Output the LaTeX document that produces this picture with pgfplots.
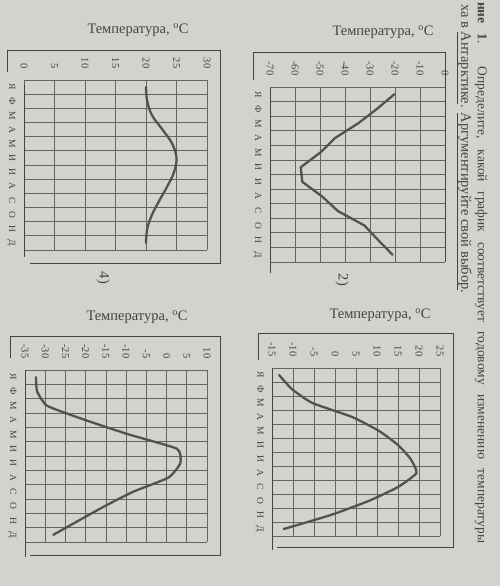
\documentclass[border=0pt]{standalone}
\usepackage{fontspec}
\setmainfont{Liberation Serif}
\usepackage{pgfplots}
\pgfplotsset{compat=1.18}
\definecolor{bg}{RGB}{210,211,205}
\definecolor{ink}{RGB}{68,68,66}
\definecolor{gridc}{RGB}{100,100,98}
\definecolor{curve}{RGB}{82,82,80}
\pgfplotsset{chart/.style={
  scale only axis, enlargelimits=false, clip=false,
  y dir=reverse, ymin=0, ymax=12,
  ytick={0.5,1.5,...,11.5}, yticklabels={Я,Ф,М,А,М,И,И,А,С,О,Н,Д},
  minor ytick={0,1,...,12}, yminorgrids=true, xmajorgrids=true, ymajorgrids=false,
  axis line style={draw=none}, major tick length=0pt, minor tick length=0pt,
  xticklabel pos=upper,
  /pgf/number format/assume math mode=true,
  xticklabel style={yshift=8pt, rotate=-90, anchor=east, font=\fontsize{10.5}{12}\selectfont, text=ink},
  yticklabel style={xshift=-5pt, rotate=-90, anchor=north, font=\fontsize{9.5}{11}\selectfont, text=ink},
  major grid style={line width=0.75pt, draw=gridc},
  minor grid style={line width=0.75pt, draw=gridc},
}}
\tikzset{crv/.style={line width=2.3pt, draw=curve, line join=round, line cap=round, mark=none}}
\begin{document}
\begin{tikzpicture}
\fill[bg] (0pt,0pt) rectangle (500pt,586pt);
\useasboundingbox (0pt,0pt) rectangle (500pt,586pt);

% ---------- chart 4 (top left)
\begin{axis}[chart, at={(24pt,336pt)}, anchor=south west, width=183pt, height=170pt,
  xmin=0, xmax=30, xtick={0,5,...,30}]
\addplot[crv, smooth, tension=0.6] coordinates {(20,0.5)(20.2,1.5)(21,2.5)(22.7,3.5)(24.3,4.5)(25,5.5)(24.6,6.5)(23.5,7.5)(22.2,8.5)(21,9.5)(20.2,10.5)(20,11.5)};
\end{axis}
% ---------- chart 2 (top right)
\begin{axis}[chart, at={(270pt,324pt)}, anchor=south west, width=175pt, height=175pt,
  xmin=-70, xmax=0, xtick={-70,-60,...,0}]
\addplot[crv, sharp plot] coordinates {(-20.3,0.5)(-27.2,1.5)(-34.8,2.5)(-44,3.5)(-49.9,4.5)(-57.7,5.5)(-57.1,6.5)(-49.2,7.5)(-42.9,8.5)(-32.2,9.5)(-26.7,10.5)(-21,11.5)};
\end{axis}
% ---------- chart 3 (bottom left)
\begin{axis}[chart, at={(25pt,44pt)}, anchor=south west, width=182pt, height=172pt,
  xmin=-35, xmax=10, xtick={-35,-30,...,10}]
\addplot[crv, smooth, tension=0.3] coordinates {(-32.3,0.5)(-32,1.5)(-29.5,2.5)(-20,3.5)(-9.3,4.5)(2.6,5.5)(3.4,6.5)(0.5,7.5)(-8.3,8.5)(-15.3,9.5)(-21.7,10.5)(-28,11.5)};
\end{axis}
% ---------- chart 1 (bottom right)
\begin{axis}[chart, at={(272pt,50pt)}, anchor=south west, width=168pt, height=168pt,
  xmin=-15, xmax=25, xtick={-15,-10,...,25}]
\addplot[crv, smooth, tension=0.3] coordinates {(-13.3,0.5)(-10.3,1.5)(-5.4,2.5)(4.1,3.5)(10.5,4.5)(15,5.5)(18,6.5)(19.4,7.5)(15,8.5)(8,9.5)(-1,10.5)(-12.2,11.5)};
\end{axis}

% frames and month axis lines
\begin{scope}[draw=ink, line width=0.8pt]
\draw (7pt,514pt) -- (7pt,536pt) -- (220pt,536pt) -- (220pt,323pt) -- (30pt,323pt);
\draw (24pt,501pt) -- (24pt,329pt);
\draw (253pt,506pt) -- (253pt,534pt) -- (445pt,534pt) -- (445pt,324pt);
\draw (270pt,498pt) -- (270pt,313pt);
\draw (10pt,228pt) -- (10pt,250pt) -- (220pt,250pt) -- (220pt,31pt) -- (30pt,31pt);
\draw (25pt,216pt) -- (25pt,29pt);
\draw (258pt,226pt) -- (258pt,253pt) -- (453pt,253pt) -- (453pt,39pt) -- (277pt,39pt);
\draw (272pt,218pt) -- (272pt,36pt);
\end{scope}

% titles
\begin{scope}[text=ink, font=\fontsize{14.5}{17}\selectfont]
\node at (138pt,556pt) {Температура, \textsuperscript{o}C};
\node at (383pt,554pt) {Температура, \textsuperscript{o}C};
\node at (137pt,269pt) {Температура, \textsuperscript{o}C};
\node at (380pt,271pt) {Температура, \textsuperscript{o}C};
\node[rotate=-90] at (103pt,308pt) {4)};
\node[rotate=-90] at (342pt,306pt) {2)};
\end{scope}
\begin{scope}[text=ink]
\node[rotate=-90, anchor=west, inner sep=0pt, font=\fontsize{13.5}{16}\selectfont] at (481pt,584pt)
  {\makebox[541pt][s]{\textbf{ние 1}. Определите, какой график соответствует годовому изменению температуры}};
\node[rotate=-90, anchor=west, inner sep=0pt, font=\fontsize{14.5}{17}\selectfont] at (464pt,582pt)
  {ха в \underline{Антарктике}. \underline{Аргументируйте свой выбор}.};
\end{scope}
\end{tikzpicture}
\end{document}
